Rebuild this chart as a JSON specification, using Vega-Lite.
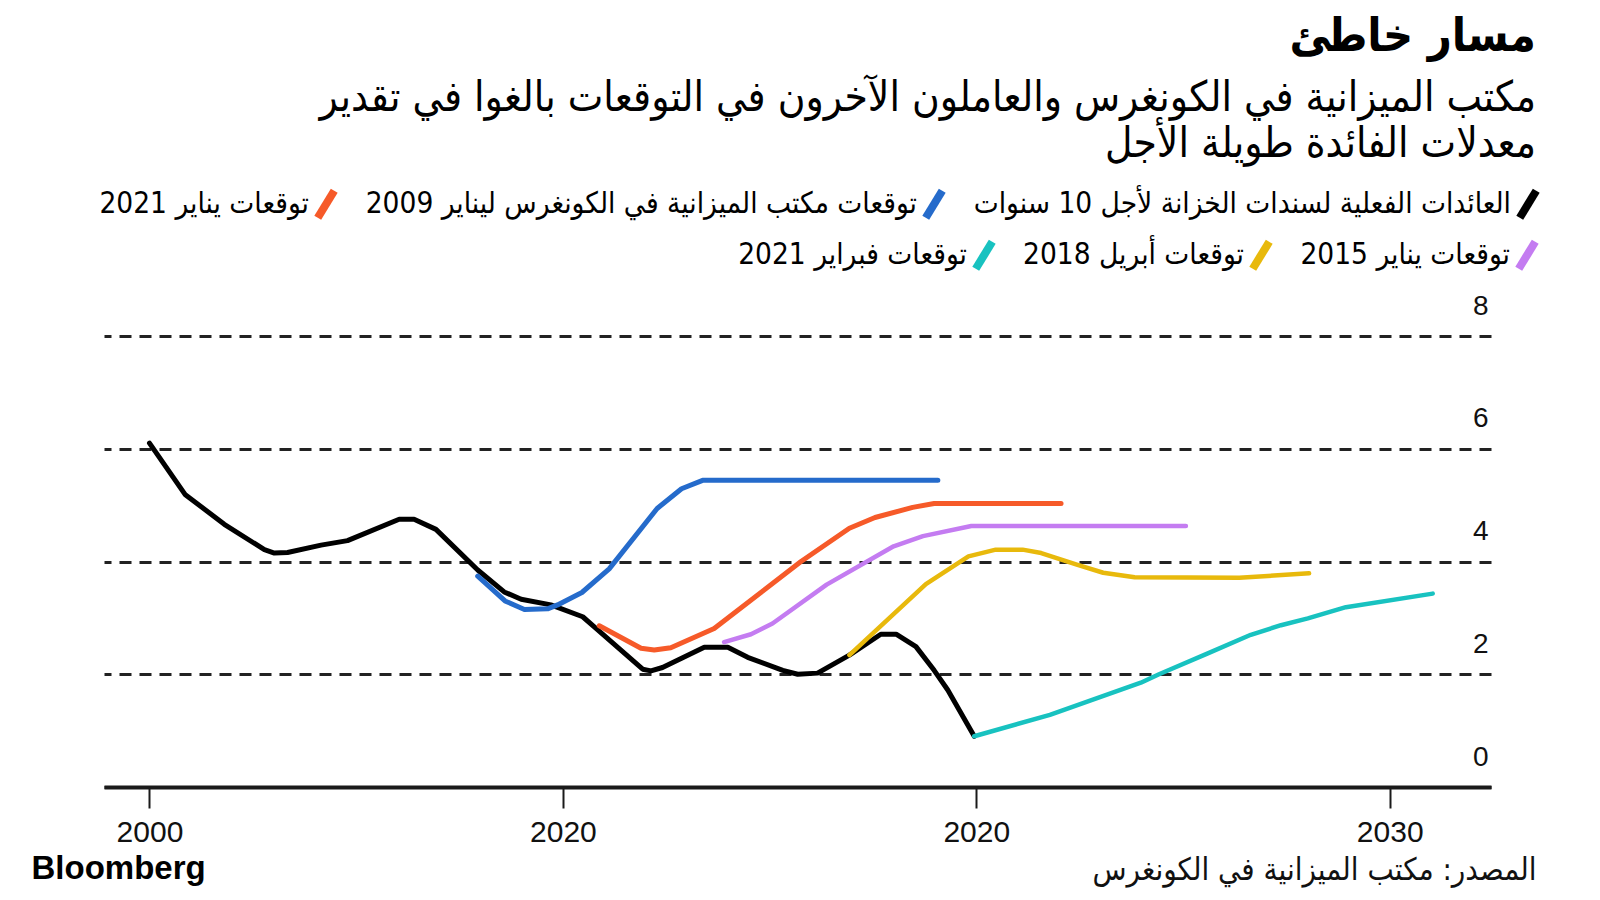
{
  "$schema": "https://vega.github.io/schema/vega-lite/v6.json",
  "width": 1387,
  "height": 451,
  "autosize": {"type": "none"},
  "padding": {"left": 104, "top": 336, "right": 109, "bottom": 113},
  "background": "white",
  "config": {"view": {"stroke": null}, "font": "Liberation Sans"},
  "title": {
    "text": "مسار خاطئ",
    "subtitle": ["مكتب الميزانية في الكونغرس والعاملون الآخرون في التوقعات بالغوا في تقدير", "معدلات الفائدة طويلة الأجل"],
    "anchor": "end",
    "frame": "group",
    "dx": 45,
    "font": "DejaVu Sans Condensed, DejaVu Sans",
    "fontSize": 46.5,
    "fontWeight": "bold",
    "color": "#000000",
    "subtitleFont": "DejaVu Sans Condensed, DejaVu Sans",
    "subtitleFontSize": 42,
    "subtitleColor": "#000000",
    "subtitleLineHeight": 46,
    "subtitlePadding": 18,
    "offset": 20
  },
  "datasets": {
    "row1": [
      {"s": "العائدات الفعلية لسندات الخزانة لأجل 10 سنوات", "year": 2000.0, "value": 6.1},
      {"s": "العائدات الفعلية لسندات الخزانة لأجل 10 سنوات", "year": 2000.86, "value": 5.19},
      {"s": "العائدات الفعلية لسندات الخزانة لأجل 10 سنوات", "year": 2001.81, "value": 4.66},
      {"s": "العائدات الفعلية لسندات الخزانة لأجل 10 سنوات", "year": 2002.78, "value": 4.21},
      {"s": "العائدات الفعلية لسندات الخزانة لأجل 10 سنوات", "year": 2003.02, "value": 4.15},
      {"s": "العائدات الفعلية لسندات الخزانة لأجل 10 سنوات", "year": 2003.34, "value": 4.16},
      {"s": "العائدات الفعلية لسندات الخزانة لأجل 10 سنوات", "year": 2004.15, "value": 4.29},
      {"s": "العائدات الفعلية لسندات الخزانة لأجل 10 سنوات", "year": 2004.79, "value": 4.37},
      {"s": "العائدات الفعلية لسندات الخزانة لأجل 10 سنوات", "year": 2006.04, "value": 4.75},
      {"s": "العائدات الفعلية لسندات الخزانة لأجل 10 سنوات", "year": 2006.4, "value": 4.75},
      {"s": "العائدات الفعلية لسندات الخزانة لأجل 10 سنوات", "year": 2006.93, "value": 4.57},
      {"s": "العائدات الفعلية لسندات الخزانة لأجل 10 سنوات", "year": 2007.94, "value": 3.85},
      {"s": "العائدات الفعلية لسندات الخزانة لأجل 10 سنوات", "year": 2008.58, "value": 3.46},
      {"s": "العائدات الفعلية لسندات الخزانة لأجل 10 سنوات", "year": 2008.99, "value": 3.33},
      {"s": "العائدات الفعلية لسندات الخزانة لأجل 10 سنوات", "year": 2009.71, "value": 3.23},
      {"s": "العائدات الفعلية لسندات الخزانة لأجل 10 سنوات", "year": 2010.48, "value": 3.02},
      {"s": "العائدات الفعلية لسندات الخزانة لأجل 10 سنوات", "year": 2010.76, "value": 2.84},
      {"s": "العائدات الفعلية لسندات الخزانة لأجل 10 سنوات", "year": 2011.93, "value": 2.09},
      {"s": "العائدات الفعلية لسندات الخزانة لأجل 10 سنوات", "year": 2012.13, "value": 2.06},
      {"s": "العائدات الفعلية لسندات الخزانة لأجل 10 سنوات", "year": 2012.41, "value": 2.12},
      {"s": "العائدات الفعلية لسندات الخزانة لأجل 10 سنوات", "year": 2013.42, "value": 2.48},
      {"s": "العائدات الفعلية لسندات الخزانة لأجل 10 سنوات", "year": 2013.99, "value": 2.48},
      {"s": "العائدات الفعلية لسندات الخزانة لأجل 10 سنوات", "year": 2014.47, "value": 2.3},
      {"s": "العائدات الفعلية لسندات الخزانة لأجل 10 سنوات", "year": 2015.32, "value": 2.07},
      {"s": "العائدات الفعلية لسندات الخزانة لأجل 10 سنوات", "year": 2015.68, "value": 2.0},
      {"s": "العائدات الفعلية لسندات الخزانة لأجل 10 سنوات", "year": 2016.16, "value": 2.02},
      {"s": "العائدات الفعلية لسندات الخزانة لأجل 10 سنوات", "year": 2016.93, "value": 2.34},
      {"s": "العائدات الفعلية لسندات الخزانة لأجل 10 سنوات", "year": 2017.69, "value": 2.71},
      {"s": "العائدات الفعلية لسندات الخزانة لأجل 10 سنوات", "year": 2018.06, "value": 2.71},
      {"s": "العائدات الفعلية لسندات الخزانة لأجل 10 سنوات", "year": 2018.54, "value": 2.49},
      {"s": "العائدات الفعلية لسندات الخزانة لأجل 10 سنوات", "year": 2018.98, "value": 2.07},
      {"s": "العائدات الفعلية لسندات الخزانة لأجل 10 سنوات", "year": 2019.31, "value": 1.72},
      {"s": "العائدات الفعلية لسندات الخزانة لأجل 10 سنوات", "year": 2019.95, "value": 0.9},
      {"s": "توقعات مكتب الميزانية في الكونغرس ليناير 2009", "year": 2007.94, "value": 3.74},
      {"s": "توقعات مكتب الميزانية في الكونغرس ليناير 2009", "year": 2008.6, "value": 3.3},
      {"s": "توقعات مكتب الميزانية في الكونغرس ليناير 2009", "year": 2009.07, "value": 3.15},
      {"s": "توقعات مكتب الميزانية في الكونغرس ليناير 2009", "year": 2009.63, "value": 3.16},
      {"s": "توقعات مكتب الميزانية في الكونغرس ليناير 2009", "year": 2009.87, "value": 3.23},
      {"s": "توقعات مكتب الميزانية في الكونغرس ليناير 2009", "year": 2010.46, "value": 3.45},
      {"s": "توقعات مكتب الميزانية في الكونغرس ليناير 2009", "year": 2011.12, "value": 3.87},
      {"s": "توقعات مكتب الميزانية في الكونغرس ليناير 2009", "year": 2012.28, "value": 4.94},
      {"s": "توقعات مكتب الميزانية في الكونغرس ليناير 2009", "year": 2012.87, "value": 5.29},
      {"s": "توقعات مكتب الميزانية في الكونغرس ليناير 2009", "year": 2013.38, "value": 5.44},
      {"s": "توقعات مكتب الميزانية في الكونغرس ليناير 2009", "year": 2019.07, "value": 5.44},
      {"s": "توقعات يناير 2021", "year": 2010.88, "value": 2.86},
      {"s": "توقعات يناير 2021", "year": 2011.89, "value": 2.46},
      {"s": "توقعات يناير 2021", "year": 2012.21, "value": 2.43},
      {"s": "توقعات يناير 2021", "year": 2012.61, "value": 2.47},
      {"s": "توقعات يناير 2021", "year": 2013.66, "value": 2.81},
      {"s": "توقعات يناير 2021", "year": 2015.76, "value": 4.0},
      {"s": "توقعات يناير 2021", "year": 2016.93, "value": 4.59},
      {"s": "توقعات يناير 2021", "year": 2017.55, "value": 4.78},
      {"s": "توقعات يناير 2021", "year": 2018.46, "value": 4.96},
      {"s": "توقعات يناير 2021", "year": 2018.98, "value": 5.03},
      {"s": "توقعات يناير 2021", "year": 2022.05, "value": 5.03}
    ],
    "row2": [
      {"s": "توقعات يناير 2015", "year": 2013.9, "value": 2.57},
      {"s": "توقعات يناير 2015", "year": 2014.55, "value": 2.71},
      {"s": "توقعات يناير 2015", "year": 2015.07, "value": 2.9},
      {"s": "توقعات يناير 2015", "year": 2016.38, "value": 3.59},
      {"s": "توقعات يناير 2015", "year": 2018.0, "value": 4.27},
      {"s": "توقعات يناير 2015", "year": 2018.71, "value": 4.45},
      {"s": "توقعات يناير 2015", "year": 2019.88, "value": 4.63},
      {"s": "توقعات يناير 2015", "year": 2025.07, "value": 4.63},
      {"s": "توقعات أبريل 2018", "year": 2016.93, "value": 2.34},
      {"s": "توقعات أبريل 2018", "year": 2018.78, "value": 3.6},
      {"s": "توقعات أبريل 2018", "year": 2019.81, "value": 4.09},
      {"s": "توقعات أبريل 2018", "year": 2020.47, "value": 4.21},
      {"s": "توقعات أبريل 2018", "year": 2021.12, "value": 4.21},
      {"s": "توقعات أبريل 2018", "year": 2021.57, "value": 4.15},
      {"s": "توقعات أبريل 2018", "year": 2022.45, "value": 3.94},
      {"s": "توقعات أبريل 2018", "year": 2023.07, "value": 3.8},
      {"s": "توقعات أبريل 2018", "year": 2023.83, "value": 3.72},
      {"s": "توقعات أبريل 2018", "year": 2026.36, "value": 3.71},
      {"s": "توقعات أبريل 2018", "year": 2028.05, "value": 3.79},
      {"s": "توقعات فبراير 2021", "year": 2019.95, "value": 0.9},
      {"s": "توقعات فبراير 2021", "year": 2021.78, "value": 1.28},
      {"s": "توقعات فبراير 2021", "year": 2023.98, "value": 1.85},
      {"s": "توقعات فبراير 2021", "year": 2024.42, "value": 2.0},
      {"s": "توقعات فبراير 2021", "year": 2025.6, "value": 2.37},
      {"s": "توقعات فبراير 2021", "year": 2026.64, "value": 2.7},
      {"s": "توقعات فبراير 2021", "year": 2027.37, "value": 2.87},
      {"s": "توقعات فبراير 2021", "year": 2028.02, "value": 2.99},
      {"s": "توقعات فبراير 2021", "year": 2028.94, "value": 3.19},
      {"s": "توقعات فبراير 2021", "year": 2031.04, "value": 3.43}
    ]
  },
  "encoding": {
    "x": {
      "field": "year",
      "type": "quantitative",
      "scale": {"domain": [1998.9, 2032.45], "nice": false, "zero": false},
      "axis": {
        "orient": "bottom",
        "values": [2000, 2010, 2020, 2030],
        "labelExpr": "datum.value == 2010 ? '2020' : format(datum.value, 'd')",
        "grid": false,
        "domain": true,
        "domainColor": "#1a1a1a",
        "domainWidth": 4,
        "ticks": true,
        "tickColor": "#1a1a1a",
        "tickWidth": 2,
        "tickSize": 21,
        "labelFont": "Liberation Sans",
        "labelFontSize": 30,
        "labelColor": "#111111",
        "labelPadding": 9,
        "labelFlush": false,
        "title": "المصدر: مكتب الميزانية في الكونغرس",
        "titleFont": "DejaVu Sans Condensed, DejaVu Sans",
        "titleFontSize": 31,
        "titleFontWeight": "normal",
        "titleColor": "#111111",
        "titleAlign": "right",
        "titleAnchor": "end",
        "titleX": 1432,
        "titleY": 83,
        "titleBaseline": "middle"
      }
    }
  },
  "layer": [
    {
      "data": {"name": "row1"},
      "mark": {"type": "line", "strokeWidth": 5, "strokeCap": "round", "strokeJoin": "round"},
      "encoding": {
        "y": {
          "field": "value",
          "type": "quantitative",
          "scale": {"domain": [0, 8], "nice": false},
          "axis": {
            "orient": "right",
            "values": [0, 2, 4, 6, 8],
            "grid": true,
            "gridDash": [12, 8],
            "gridColor": "#222222",
            "gridWidth": 3,
            "domain": false,
            "ticks": false,
            "tickSize": 0,
            "labelAlign": "right",
            "labelPadding": -3,
            "labelOffset": -22,
            "labelBaseline": "alphabetic",
            "labelFont": "Liberation Sans",
            "labelFontSize": 28,
            "labelColor": "#111111",
            "title": null
          }
        },
        "color": {
          "field": "s",
          "type": "nominal",
          "scale": {
            "domain": ["توقعات يناير 2021", "توقعات مكتب الميزانية في الكونغرس ليناير 2009", "العائدات الفعلية لسندات الخزانة لأجل 10 سنوات"],
            "range": ["#f65a29", "#256bcb", "#000000"]
          },
          "legend": {
            "orient": "none",
            "legendX": 203,
            "legendY": -151,
            "direction": "horizontal",
            "title": null,
            "symbolType": "M0.55,-0.9L-0.55,0.9",
            "symbolSize": 900,
            "symbolStrokeWidth": 8,
            "labelFont": "DejaVu Sans Condensed, DejaVu Sans",
            "labelFontSize": 29.5,
            "labelColor": "#000000",
            "labelAlign": "right",
            "labelOffset": -36,
            "labelLimit": 1000,
            "columnPadding": 14
          }
        }
      }
    },
    {
      "data": {"name": "row2"},
      "mark": {"type": "line", "strokeWidth": 4.5, "strokeCap": "round", "strokeJoin": "round"},
      "encoding": {
        "y": {
          "field": "value",
          "type": "quantitative",
          "scale": {"domain": [0, 8], "nice": false},
          "axis": {
            "orient": "left",
            "grid": false,
            "domain": false,
            "ticks": false,
            "labels": false,
            "title": "Bloomberg",
            "titleAngle": 0,
            "titleAlign": "left",
            "titleBaseline": "middle",
            "titleX": -73,
            "titleY": 532,
            "titleFont": "Liberation Sans",
            "titleFontSize": 33,
            "titleFontWeight": "bold",
            "titleColor": "#000000"
          }
        },
        "color": {
          "field": "s",
          "type": "nominal",
          "scale": {
            "domain": ["توقعات فبراير 2021", "توقعات أبريل 2018", "توقعات يناير 2015"],
            "range": ["#18c2c0", "#e8b90c", "#c47cf1"]
          },
          "legend": {
            "orient": "none",
            "legendX": 861,
            "legendY": -100,
            "direction": "horizontal",
            "title": null,
            "symbolType": "M0.55,-0.9L-0.55,0.9",
            "symbolSize": 900,
            "symbolStrokeWidth": 8,
            "labelFont": "DejaVu Sans Condensed, DejaVu Sans",
            "labelFontSize": 29.5,
            "labelColor": "#000000",
            "labelAlign": "right",
            "labelOffset": -36,
            "labelLimit": 1000,
            "columnPadding": 14
          }
        }
      }
    }
  ],
  "resolve": {"scale": {"color": "independent"}, "axis": {"y": "independent"}}
}
